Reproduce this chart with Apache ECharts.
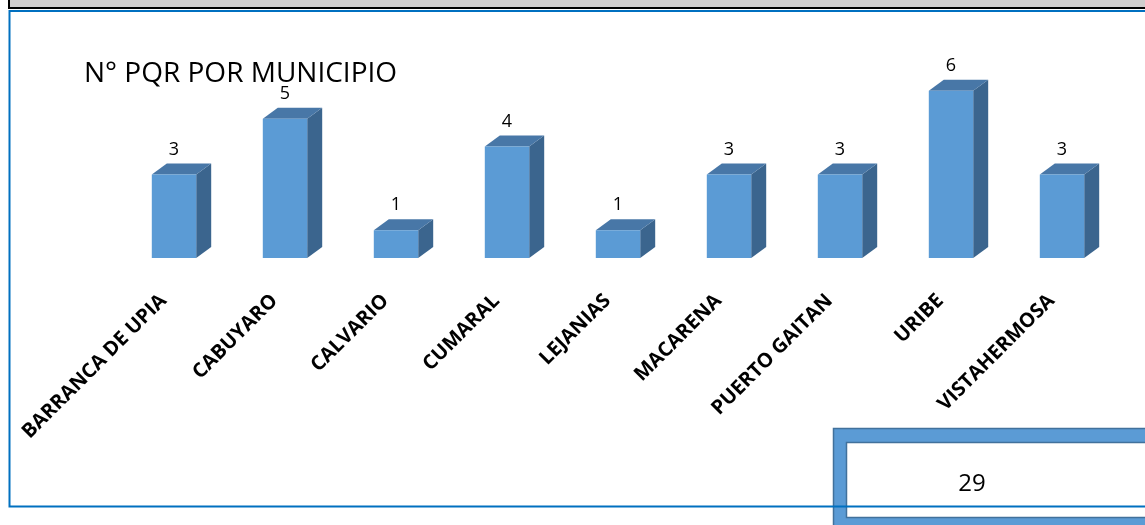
<!DOCTYPE html>
<html>
<head>
<meta charset="utf-8">
<style>
  html, body { margin: 0; padding: 0; background: #ffffff; }
  #chart { width: 1145px; height: 525px; }
</style>
<script src="https://cdn.jsdelivr.net/npm/echarts@6/dist/echarts.min.js"></script>
</head>
<body>
<div id="chart"></div>
<script>
// PQR counts by municipality
const municipios = ['BARRANCA DE UPIA', 'CABUYARO', 'CALVARIO', 'CUMARAL', 'LEJANIAS',
                    'MACARENA', 'PUERTO GAITAN', 'URIBE', 'VISTAHERMOSA'];
const pqr = [3, 5, 1, 4, 1, 3, 3, 6, 3];
const titulo = 'N° PQR POR MUNICIPIO';
const total = pqr.reduce((a, b) => a + b, 0);

const FONT = '"Open Sans", "Liberation Sans", sans-serif';
const FRONT = '#5B9BD5';
const TOP = '#4877A7';
const SIDE = '#3B658E';

const chart = echarts.init(document.getElementById('chart'), null, { renderer: 'canvas' });

// oblique box bar: front face, top face and right side face
function renderBox(params, api) {
  const i = api.value(0);
  const v = api.value(1);
  const base = api.coord([i, 0]);
  const head = api.coord([i, v]);
  const w = api.size([1, 0])[0] * 0.4;
  const dx = 15, dy = 11;
  const l = base[0] - w / 2, r = base[0] + w / 2;
  const t = head[1], b = base[1];
  return {
    type: 'group',
    children: [
      { type: 'polygon', shape: { points: [[r, t], [r + dx, t - dy], [r + dx, b - dy], [r, b]] },
        style: { fill: SIDE } },
      { type: 'polygon', shape: { points: [[l, t], [l + dx, t - dy], [r + dx, t - dy], [r, t]] },
        style: { fill: TOP } },
      { type: 'rect', shape: { x: l, y: t, width: w, height: b - t },
        style: { fill: FRONT } },
      { type: 'text', x: base[0], y: t - 25,
        style: { text: String(v), fill: '#000', font: '18px ' + FONT,
                 align: 'center', verticalAlign: 'middle' } }
    ]
  };
}

chart.setOption({
  animation: false,
  backgroundColor: '#ffffff',
  grid: { left: 118.5, right: 27.5, top: 63, bottom: 267, outerBoundsMode: 'none' },
  xAxis: {
    type: 'category',
    data: municipios,
    axisLine: { show: false },
    axisTick: { show: false },
    axisLabel: { rotate: 45, margin: 29, interval: 0, color: '#000',
                 padding: [0, 15, 0, 0],
                 fontFamily: FONT, fontWeight: 'bold', fontSize: 20 }
  },
  yAxis: { type: 'value', min: 0, max: 7, show: false, splitLine: { show: false } },
  series: [{
    type: 'custom',
    renderItem: renderBox,
    data: pqr.map((v, i) => [i, v]),
    z: 2
  }],
  graphic: [
    // header strip
    { type: 'rect', z: 1, shape: { x: 9, y: -5, width: 1200, height: 13 },
      style: { fill: '#D0CECE', stroke: '#000', lineWidth: 2 } },
    // total box
    { type: 'rect', z: 5, shape: { x: 840, y: 435, width: 500, height: 90 },
      style: { fill: '#ffffff', stroke: FRONT, lineWidth: 14 } },
    { type: 'rect', z: 6, shape: { x: 833.5, y: 428.5, width: 520, height: 110 },
      style: { fill: null, stroke: '#41719C', lineWidth: 1.5 } },
    { type: 'rect', z: 6, shape: { x: 846.5, y: 442.5, width: 500, height: 75 },
      style: { fill: null, stroke: '#41719C', lineWidth: 1.5 } },
    { type: 'text', z: 7, x: 972, y: 484,
      style: { text: String(total), fill: '#000', font: '24px ' + FONT,
               align: 'center', verticalAlign: 'middle' } },
    // outer frame
    { type: 'rect', z: 8, shape: { x: 9.5, y: 11, width: 1200, height: 495.5 },
      style: { fill: null, stroke: '#0070C0', lineWidth: 2 } },
    // title
    { type: 'text', z: 9, x: 84, y: 74,
      style: { text: titulo, fill: '#000', font: '28px ' + FONT,
               align: 'left', verticalAlign: 'middle' } }
  ]
});
</script>
</body>
</html>
